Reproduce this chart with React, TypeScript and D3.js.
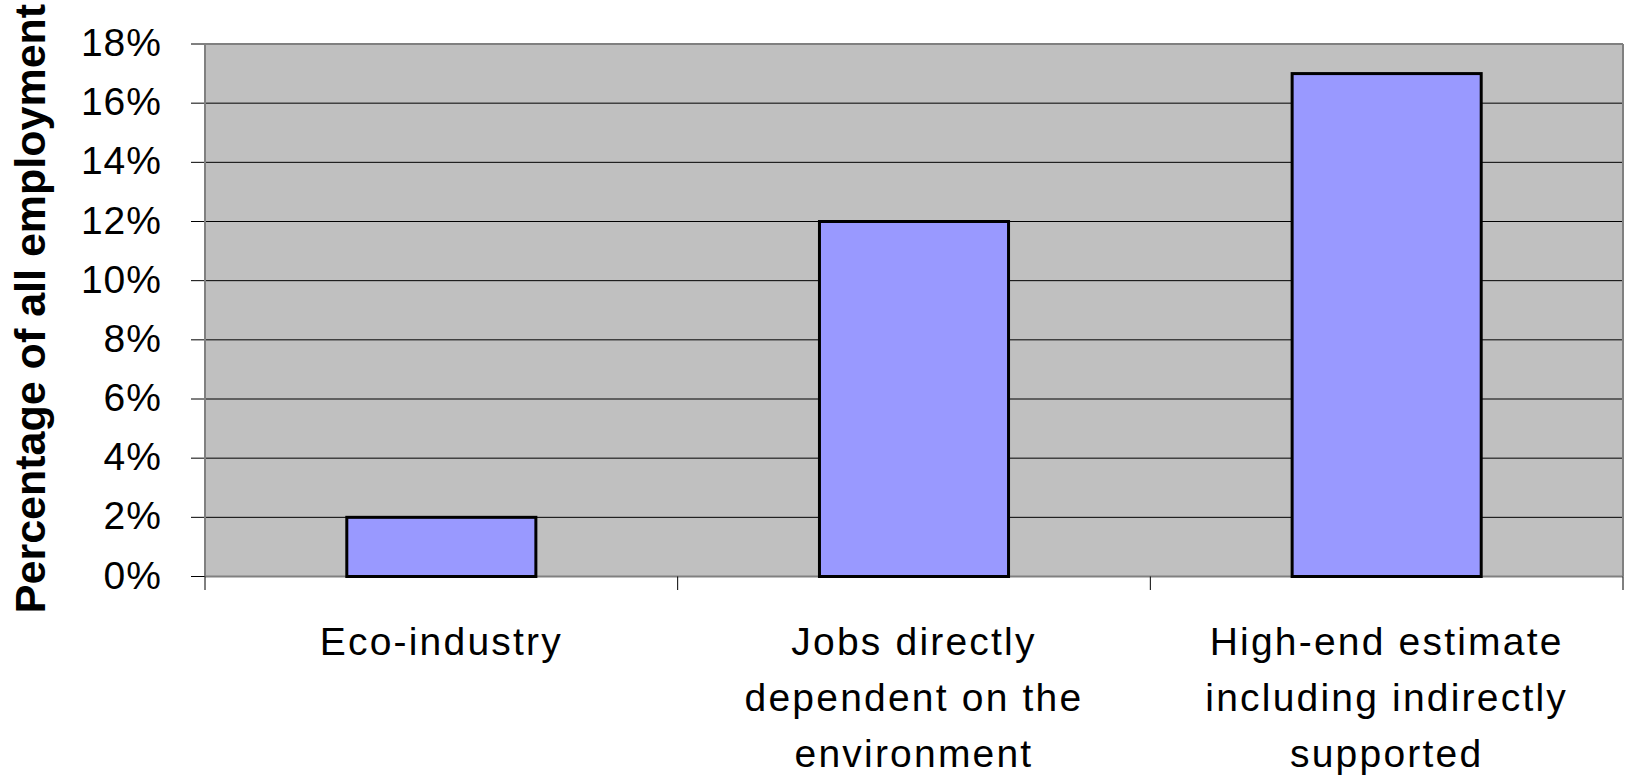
import React from "react";
import * as d3 from "d3";

const categories = ["Eco-industry", "Jobs directly dependent", "High-end estimate"];
const labelLines = [
  ["Eco-industry"],
  ["Jobs directly", "dependent on the", "environment"],
  ["High-end estimate", "including indirectly", "supported"],
];
const values = [2, 12, 17];
const yTicks = [0, 2, 4, 6, 8, 10, 12, 14, 16, 18];

export default function App() {
  const width = 1625;
  const height = 778;
  const left = 205;
  const right = 1623;
  const top = 44;
  const bottom = 576.5;
  const font = "'Liberation Sans', Arial, sans-serif";

  const x = d3
    .scaleBand<string>()
    .domain(categories)
    .range([left, right])
    .paddingInner(0.6)
    .paddingOuter(0.3);
  const y = d3.scaleLinear().domain([0, 18]).range([bottom, top]);

  const step = x.step();
  const boundaries = d3.range(categories.length + 1).map((i) => left + i * step);

  return (
    <svg
      width={width}
      height={height}
      style={{ position: "absolute", left: 0, top: 0, background: "#fff" }}
    >
      <rect x={left} y={top} width={right - left} height={bottom - top} fill="#C0C0C0" />
      {yTicks.map((t) => (
        <g key={t}>
          {t > 0 && t < 18 && (
            <line x1={left} x2={right} y1={y(t)} y2={y(t)} stroke="#000" strokeWidth={1} />
          )}
          <line x1={191} x2={left} y1={y(t)} y2={y(t)} stroke="#000" strokeWidth={1} />
          <text
            x={162}
            y={y(t) + 12}
            textAnchor="end"
            fontFamily={font}
            fontSize={39}
            letterSpacing={1}
            fill="#000"
          >
            {t}%
          </text>
        </g>
      ))}
      {/* plot frame */}
      <line x1={left} x2={right} y1={top} y2={top} stroke="#808080" strokeWidth={2} />
      <line x1={right} x2={right} y1={top} y2={bottom} stroke="#808080" strokeWidth={2} />
      <line x1={left} x2={left} y1={top} y2={bottom} stroke="#808080" strokeWidth={2} />
      <line x1={left} x2={right} y1={bottom} y2={bottom} stroke="#808080" strokeWidth={2} />
      {boundaries.map((b, i) => (
        <line key={i} x1={b} x2={b} y1={bottom} y2={590} stroke="#000" strokeWidth={1} />
      ))}
      {categories.map((c, i) => (
        <rect
          key={c}
          x={x(c)}
          y={y(values[i])}
          width={x.bandwidth()}
          height={bottom - y(values[i])}
          fill="#9999FF"
          stroke="#000"
          strokeWidth={3}
        />
      ))}
      {categories.map((c, i) => (
        <text
          key={c}
          textAnchor="middle"
          fontFamily={font}
          fontSize={39}
          letterSpacing={2.2}
          fill="#000"
        >
          {labelLines[i].map((l, j) => (
            <tspan key={j} x={(x(c) as number) + x.bandwidth() / 2} y={655 + j * 56}>
              {l}
            </tspan>
          ))}
        </text>
      ))}
      <text
        transform={`translate(45, ${(top + 611) / 2 - 19}) rotate(-90)`}
        textAnchor="middle"
        fontFamily={font}
        fontSize={43}
        fontWeight="bold"
        fill="#000"
      >
        Percentage of all employment
      </text>
    </svg>
  );
}
